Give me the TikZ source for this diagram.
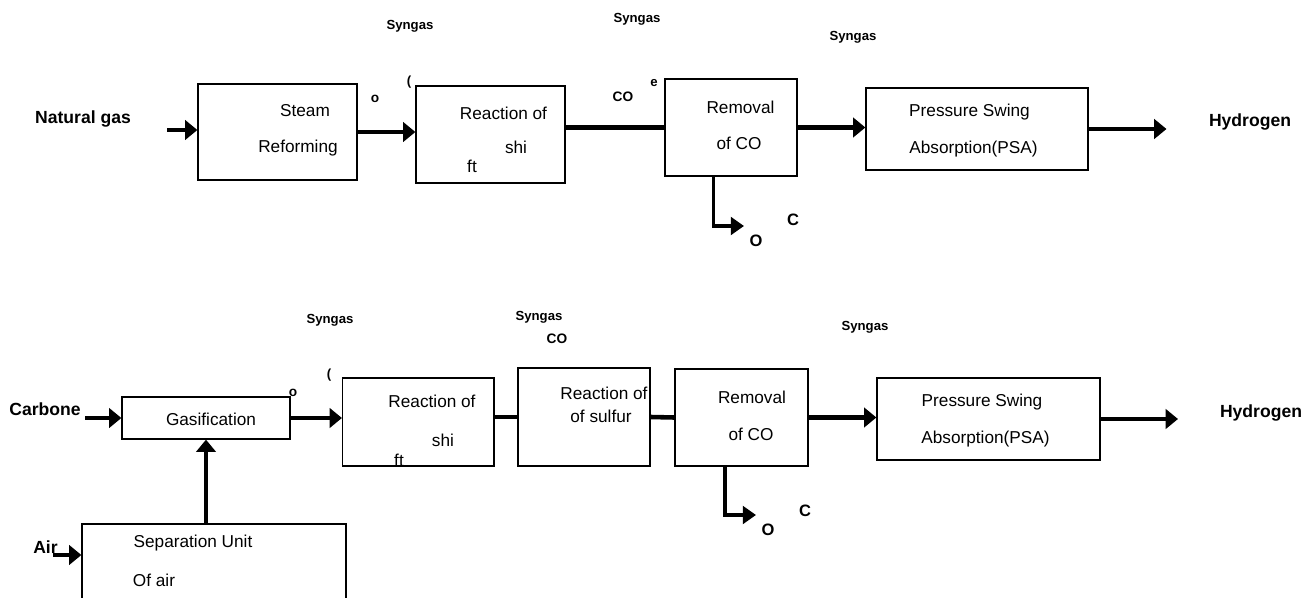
\documentclass[tikz,border=0pt]{standalone}
\usepackage{fontspec}
\setmainfont{Liberation Sans}
\usetikzlibrary{arrows.meta,calc}

\begin{document}
\begin{tikzpicture}[x=0.02cm,y=-0.02cm,
    unit/.style={draw,line width=0.7pt,inner sep=0pt},
    txt/.style={inner sep=0pt,font=\fontsize{9.8}{11}\selectfont},
    tag/.style={inner sep=0pt,font=\bfseries\fontsize{10}{12}\selectfont},
    gasl/.style={inner sep=0pt,font=\bfseries\fontsize{7.5}{9}\selectfont},
    mol/.style={inner sep=0pt,font=\bfseries\fontsize{7.8}{9}\selectfont},
    atom/.style={inner sep=0pt,font=\bfseries\fontsize{9.4}{11}\selectfont},
    flow/.style={line width=1.8pt,-{Triangle[length=7pt,width=11pt]}},
    pipe/.style={line width=2.6pt},
    vent/.style={line width=2pt,-{Triangle[length=7.5pt,width=10pt]}}]
    \useasboundingbox (0,0) rectangle (1315,598);
    \clip (0,0) rectangle (1315,598);
    % --- (a) natural gas route
    \node[unit,minimum width=3.18cm,minimum height=1.92cm] (sr) at (277.5,132) {};
    \node[unit,minimum width=2.98cm,minimum height=1.94cm] (rs1) at (490.5,134.5) {};
    \node[unit,minimum width=2.64cm,minimum height=1.94cm] (rc1) at (731,127.5) {};
    \node[unit,minimum width=4.44cm,minimum height=1.64cm] (psa1) at (977,129) {};
    \node[tag] (ng) at (83,119) {Natural gas};
    \node[txt] (sr1) at (305,111) {Steam};
    \node[txt] (sr2) at (298,148) {Reforming};
    \node[txt] (rsa1) at (503.5,113) {Reaction of};
    \node[txt] (rsb1) at (516,147) {shi};
    \node[txt] (rsc1) at (472,166) {ft};
    \node[txt] (rca1) at (740.5,107) {Removal};
    \node[txt] (rcb1) at (739,143) {of CO};
    \node[txt] (psaa1) at (969.5,112) {Pressure Swing};
    \node[txt] (psab1) at (973.5,149) {Absorption(PSA)};
    \node[tag] (h2l1) at (1250,122) {Hydrogen};
    \node[gasl] (sg1) at (410,26) {Syngas};
    \node[gasl] (sg2) at (637,19) {Syngas};
    \node[gasl] (sg3) at (853,37) {Syngas};
    \node[mol] (o1) at (375,99) {o};
    \node[gasl] (p1) at (409,82) {(};
    \node[mol] (co1) at (623,97) {CO};
    \node[gasl] (e1) at (654,83) {e};
    \node[atom] (oo1) at (756,241) {O};
    \node[atom] (cc1) at (793,220) {C};
    \coordinate (ngin) at (167,130);
    \coordinate (h2a) at (1166.5,129);
    \coordinate (co2a) at (744,226);
    \draw[flow] (ngin) -- (ngin -| sr.west);
    \draw[flow] (sr.east) -- (sr.east -| rs1.west);
    \draw[pipe] (rc1.west -| rs1.east) -- (rc1.west);
    \draw[flow,line width=2.6pt] (rc1.east) -- (rc1.east -| psa1.west);
    \draw[flow] (psa1.east) -- (h2a);
    \draw[vent] ($(rc1.south west)!0.37!(rc1.south east)$) |- (co2a);
    % --- (b) coal route
    \node[unit,minimum width=3.36cm,minimum height=0.84cm] (gas) at (206,418) {};
    \node[unit,minimum width=3.03cm,minimum height=1.76cm] (rs2) at (418.3,422) {};
    \node[unit,minimum width=2.64cm,minimum height=1.96cm] (sul) at (584,417) {};
    \node[unit,minimum width=2.66cm,minimum height=1.94cm] (rc2) at (741.5,417.5) {};
    \node[unit,minimum width=4.46cm,minimum height=1.64cm] (psa2) at (988.5,419) {};
    \node[unit,minimum width=5.28cm,minimum height=1.92cm] (asu) at (214,572) {};
    \node[tag] (cb) at (45,409) {Carbone};
    \node[tag] (air) at (45.5,547) {Air};
    \node[txt] (gasa) at (211,419) {Gasification};
    \node[txt] (rsa2) at (432,401) {Reaction of};
    \node[txt] (rsb2) at (443,440) {shi};
    \node[txt] (rsc2) at (399,460) {ft};
    \node[txt] (sula) at (604,393) {Reaction of};
    \node[txt] (sulb) at (601,416) {of sulfur};
    \node[txt] (rca2) at (752,397) {Removal};
    \node[txt] (rcb2) at (751,434) {of CO};
    \node[txt] (psaa2) at (982,402) {Pressure Swing};
    \node[txt] (psab2) at (985.5,439) {Absorption(PSA)};
    \node[txt] (asua) at (193,543) {Separation Unit};
    \node[txt] (asub) at (154,580) {Of air};
    \node[tag] (h2l2) at (1261,413) {Hydrogen};
    \node[gasl] (sg4) at (330,320) {Syngas};
    \node[gasl] (sg5) at (539,317) {Syngas};
    \node[gasl] (sg6) at (865,327) {Syngas};
    \node[mol] (co2) at (557,339) {CO};
    \node[mol] (o2) at (293,393) {o};
    \node[gasl] (p2) at (329,375) {(};
    \node[atom] (oo2) at (768,530) {O};
    \node[atom] (cc2) at (805,511) {C};
    \coordinate (cin) at (85,418);
    \coordinate (airin) at (52.5,555);
    \coordinate (h2b) at (1178,419);
    \coordinate (co2b) at (756,515);
    \draw[flow] (cin) -- (gas.west);
    \draw[flow] (airin) -- (airin -| asu.west);
    \draw[flow] (gas.south |- asu.north) -- (gas.south);
    \draw[flow] (gas.east) -- (gas.east -| rs2.west);
    \draw[pipe] (sul.west -| rs2.east) -- (sul.west);
    \draw[pipe] (sul.east) -- (rc2.west);
    \draw[flow,line width=2.6pt] (rc2.east) -- (rc2.east -| psa2.west);
    \draw[flow] (psa2.east) -- (h2b);
    \draw[vent] ($(rc2.south west)!0.378!(rc2.south east)$) |- (co2b);
\end{tikzpicture}
\end{document}
